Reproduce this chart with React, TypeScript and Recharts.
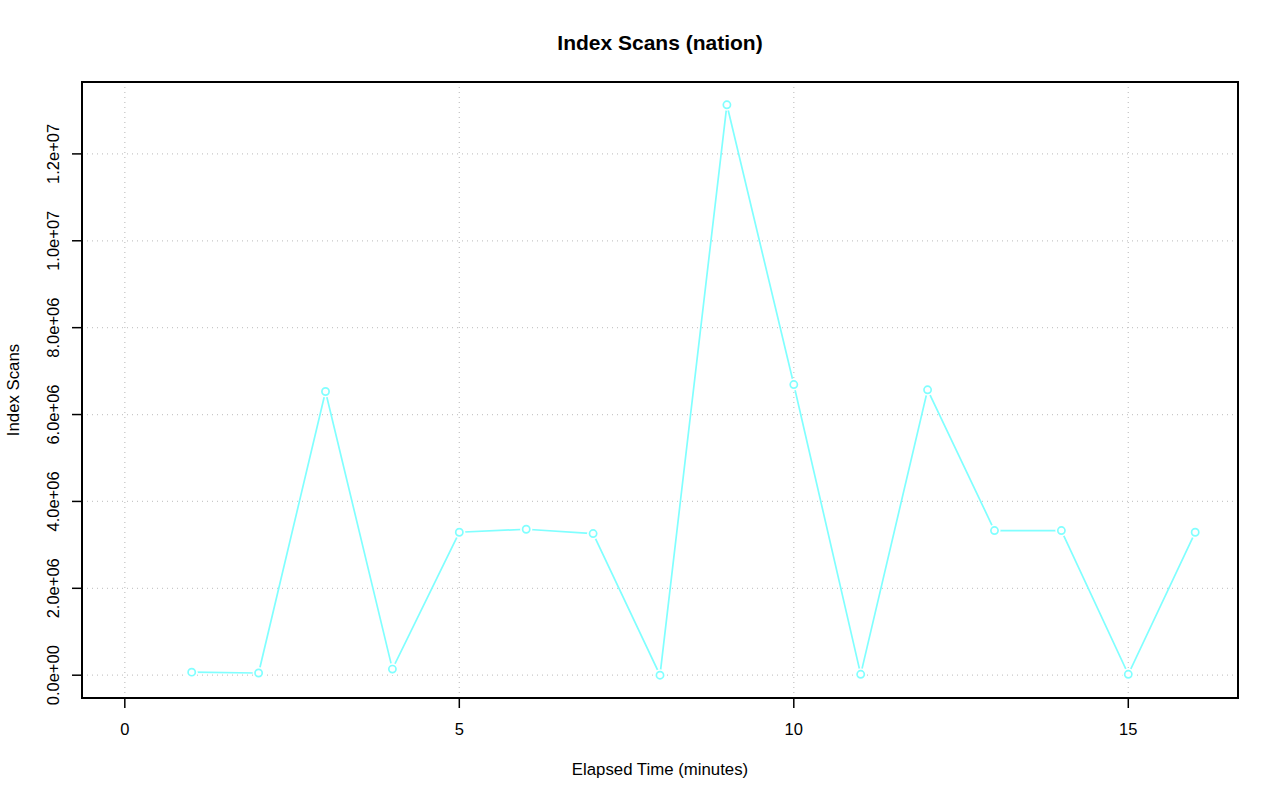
import React from "react";
import { LineChart, Line, XAxis, YAxis, CartesianGrid, ReferenceArea } from "recharts";

const minutes = [1, 2, 3, 4, 5, 6, 7, 8, 9, 10, 11, 12, 13, 14, 15, 16];
const indexScans = [
  70000, 50000, 6530000, 140000, 3290000, 3360000, 3260000, 0,
  13130000, 6690000, 20000, 6570000, 3330000, 3330000, 20000, 3290000,
];
const xTicks = [0, 5, 10, 15];
const yTicks = [0, 2000000, 4000000, 6000000, 8000000, 10000000, 12000000];

const data = minutes.map((m, i) => ({ minute: m, scans: indexScans[i] }));

const LINE_COLOR = "#80ffff";
const FONT = "'Liberation Sans', Arial, Helvetica, sans-serif";

function sci(v: number) {
  const [m, e] = v.toExponential(1).split("e");
  const sign = e.startsWith("-") ? "-" : "+";
  const digits = e.replace(/[+-]/, "").padStart(2, "0");
  return `${m}e${sign}${digits}`;
}

const XTick = (props: any) => {
  const { x, payload } = props;
  return (
    <g>
      <line x1={x} x2={x} y1={698} y2={708} stroke="#000" strokeWidth={1.5} />
      <text x={x} y={729} textAnchor="middle" dominantBaseline="central" fontSize={16.5} fontFamily={FONT} fill="#000">
        {payload.value}
      </text>
    </g>
  );
};

const YTick = (props: any) => {
  const { y, payload } = props;
  return (
    <g>
      <line x1={72} x2={82} y1={y} y2={y} stroke="#000" strokeWidth={1.5} />
      <text
        x={53}
        y={y}
        textAnchor="middle"
        dominantBaseline="central"
        fontSize={16.5}
        fontFamily={FONT}
        fill="#000"
        transform={`rotate(-90, 53, ${y})`}
      >
        {sci(payload.value)}
      </text>
    </g>
  );
};

const Dot = (props: any) => {
  const { cx, cy, index } = props;
  return (
    <g key={`d-${index}`}>
      <circle cx={cx} cy={cy} r={6} fill="#fff" />
      <circle cx={cx} cy={cy} r={3.6} fill="none" stroke={LINE_COLOR} strokeWidth={1.7} />
    </g>
  );
};

export default function App() {
  return (
    <div style={{ position: "absolute", left: 0, top: 0, width: 1280, height: 801, background: "#fff", fontFamily: FONT }}>
      <div style={{ position: "absolute", left: 0, width: 1320, top: 31, textAlign: "center", fontSize: 21, lineHeight: "24px", fontWeight: "bold" }}>
        Index Scans (nation)
      </div>
      <div style={{ position: "absolute", left: 0, width: 1320, top: 760, textAlign: "center", fontSize: 16.8, lineHeight: "20px" }}>
        Elapsed Time (minutes)
      </div>
      <div
        style={{
          position: "absolute",
          left: 14,
          top: 390,
          fontSize: 16.8,
          lineHeight: "20px",
          whiteSpace: "nowrap",
          transform: "translate(-50%, -50%) rotate(-90deg)",
        }}
      >
        Index Scans
      </div>
      <div style={{ position: "absolute", left: 0, top: 0 }}>
        <LineChart width={1280} height={801} data={data} margin={{ top: 82, right: 42, bottom: 73, left: 22 }}>
          <CartesianGrid stroke="#c8c8c8" strokeDasharray="1 4" strokeWidth={1.3} />
          <XAxis
            dataKey="minute"
            type="number"
            domain={[-0.64, 16.64]}
            ticks={xTicks}
            axisLine={false}
            tickLine={false}
            tick={<XTick />}
            height={30}
            allowDataOverflow
          />
          <YAxis
            type="number"
            domain={[-525000, 13655000]}
            ticks={yTicks}
            axisLine={false}
            tickLine={false}
            tick={<YTick />}
            width={60}
            allowDataOverflow
          />
          <Line
            dataKey="scans"
            type="linear"
            stroke={LINE_COLOR}
            strokeWidth={1.7}
            dot={<Dot />}
            activeDot={false}
            isAnimationActive={false}
          />
          <ReferenceArea x1={-0.64} x2={16.64} y1={-525000} y2={13655000} fill="none" stroke="#000" strokeWidth={2} />
        </LineChart>
      </div>
    </div>
  );
}
